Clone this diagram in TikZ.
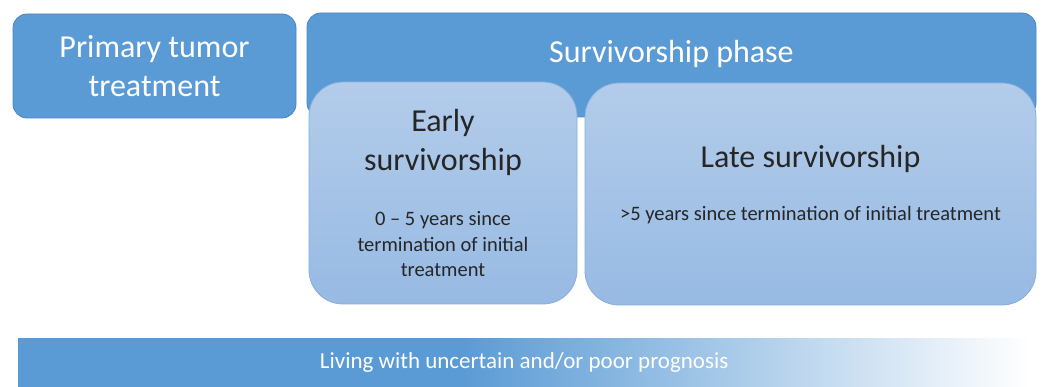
\documentclass[tikz,border=0pt]{standalone}
\usepackage{fontspec}
\setmainfont{Carlito}
\usetikzlibrary{positioning}
\definecolor{phaseblue}{HTML}{5B9BD5}
\definecolor{phaseedge}{HTML}{4D85BE}
\definecolor{stagetop}{HTML}{B3CCEA}
\definecolor{stagebot}{HTML}{97BAE3}
\definecolor{stageedge}{HTML}{86ADDC}
\definecolor{stagetext}{HTML}{262626}
\pgfdeclarehorizontalshading{fadebar}{100bp}{color(0bp)=(phaseblue); color(47bp)=(phaseblue); color(75bp)=(white); color(100bp)=(white)}
\newcommand*{\headfont}{\fontsize{32}{39}\selectfont}
\newcommand*{\notefont}{\fontsize{20.5}{25.5}\selectfont}
\newcommand*{\barfont}{\fontsize{23}{28}\selectfont}

\begin{document}
\begin{tikzpicture}[
        x=1pt, y=-1pt,
        phasebox/.style={draw=phaseedge, line width=0.8pt, fill=phaseblue,
          rounded corners=14pt, text=white, font=\headfont, align=center},
        stagebox/.style={draw=stageedge, line width=0.8pt, rounded corners=34pt,
          top color=stagetop, bottom color=stagebot, text=stagetext,
          font=\headfont, align=center},
        barbox/.style={shading=fadebar, text=white, font=\barfont},
        ]
        \useasboundingbox (0,0) rectangle (1044,387);

        \node[phasebox, minimum width=283pt, minimum height=104pt] (primary) at (154.5,66) {Primary tumor\\treatment};
        \node[phasebox, minimum width=729pt, minimum height=104pt] (phase) at (671.5,65) {};
        \node[text=white, font=\headfont] (phasetxt) at ([yshift=-41pt]phase.north) {Survivorship phase};

        % the notes use a tighter line step than the headings
        \node[stagebox, minimum width=268pt, minimum height=222pt] (early) at (443,193)
          {Early\\survivorship\\[16pt]\notefont 0 -- 5 years since\\[-13.5pt]\notefont termination of initial\\[-13.5pt]\notefont treatment};
        \node[stagebox, minimum width=451pt, minimum height=222pt, text depth=22pt] (late) at (810.5,194)
          {Late survivorship\\[14pt]\notefont >5 years since termination of initial treatment};

        \node[barbox, minimum width=1012pt, minimum height=49pt, anchor=north west] (prognosis) at (18,338)
          {Living with uncertain and/or poor prognosis};
      \end{tikzpicture}
\end{document}
